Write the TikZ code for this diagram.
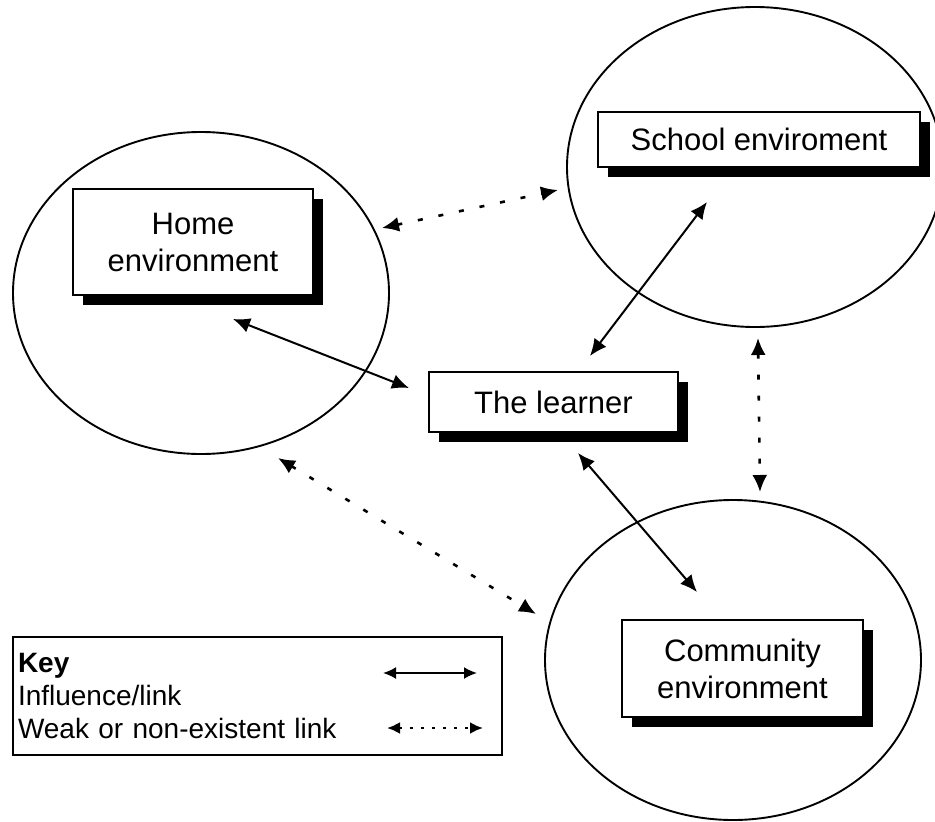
\documentclass[tikz,border=0pt]{standalone}
\usepackage{fontspec}
\setmainfont{Liberation Sans}
\usepackage{tikz}
\usetikzlibrary{positioning,shapes.geometric,shadows,arrows.meta}

\begin{document}
\begin{tikzpicture}[
		x=1pt, y=-1pt,
		region/.style={ellipse, draw=black, line width=1.9pt, minimum width=376, minimum height=322},
		envbox/.style={rectangle, draw=black, line width=1.9pt, fill=white, align=center, inner sep=0pt,
			font=\fontsize{31}{37}\selectfont,
			drop shadow={shadow xshift=10pt, shadow yshift=-10pt, fill=black, opacity=1}},
		keybox/.style={rectangle, draw=black, line width=1.9pt, fill=white, align=left, inner xsep=5pt,
			text width=479, minimum height=118, font=\fontsize{28}{33}\selectfont},
		link/.style={{Latex[length=17pt,width=15pt]}-{Latex[length=17pt,width=15pt]}, line width=2pt},
		weaklink/.style={link, line width=2.6pt, dash pattern=on 5pt off 16pt},
		keylink/.style={{Latex[length=13pt,width=12pt]}-{Latex[length=13pt,width=12pt]}, line width=2pt},
	]

		\clip (0,0) rectangle (935,822);

		% environments
		\node[region] (homeZone) at (201,293) {};
		\node[region, minimum height=320] (schoolZone) at (755,167) {};
		\node[region, minimum height=320] (communityZone) at (733,660) {};

		% arrow ends
		\coordinate (homeTip) at (233,319);
		\coordinate (learnerW) at (409,388);
		\coordinate (schoolTip) at (707,202);
		\coordinate (learnerN) at (590,356);
		\coordinate (learnerS) at (578,453);
		\coordinate (communityTip) at (697,592);
		\coordinate (homeE) at (382,228);
		\coordinate (schoolW) at (558,190);
		\coordinate (schoolS) at (758,338);
		\coordinate (communityN) at (760,492);
		\coordinate (homeS) at (278,458);
		\coordinate (communityW) at (536,614);

		% lines
		\draw[link] (homeTip) -- (learnerW);
		\draw[link] (schoolTip) -- (learnerN);
		\draw[link] (learnerS) -- (communityTip);
		\draw[weaklink] (homeE) -- (schoolW);
		\draw[weaklink] (schoolS) -- (communityN);
		\draw[weaklink] (homeS) -- (communityW);

		% nodes
		\node[envbox, minimum width=240, minimum height=106] (home) at (193,242) {Home\\environment};
		\node[envbox, minimum width=322, minimum height=55] (school) at (759,139.5) {School enviroment};
		\node[envbox, minimum width=249, minimum height=60] (learner) at (553.5,402) {The learner};
		\node[envbox, minimum width=241, minimum height=97] (community) at (742.5,668.5) {Community\\environment};

		% key
		\node[keybox] (key) at (257.5,696) {\textbf{Key}\\Influence/link\\Weak or non-existent link};
		\coordinate (solidA) at (383,673);
		\coordinate (solidB) at (477,673);
		\coordinate (dotA) at (387,728);
		\coordinate (dotB) at (483,728);
		\draw[keylink] (solidA) -- (solidB);
		\draw[keylink, line width=2.4pt, dash pattern=on 3pt off 8pt] (dotA) -- (dotB);

	\end{tikzpicture}
\end{document}
